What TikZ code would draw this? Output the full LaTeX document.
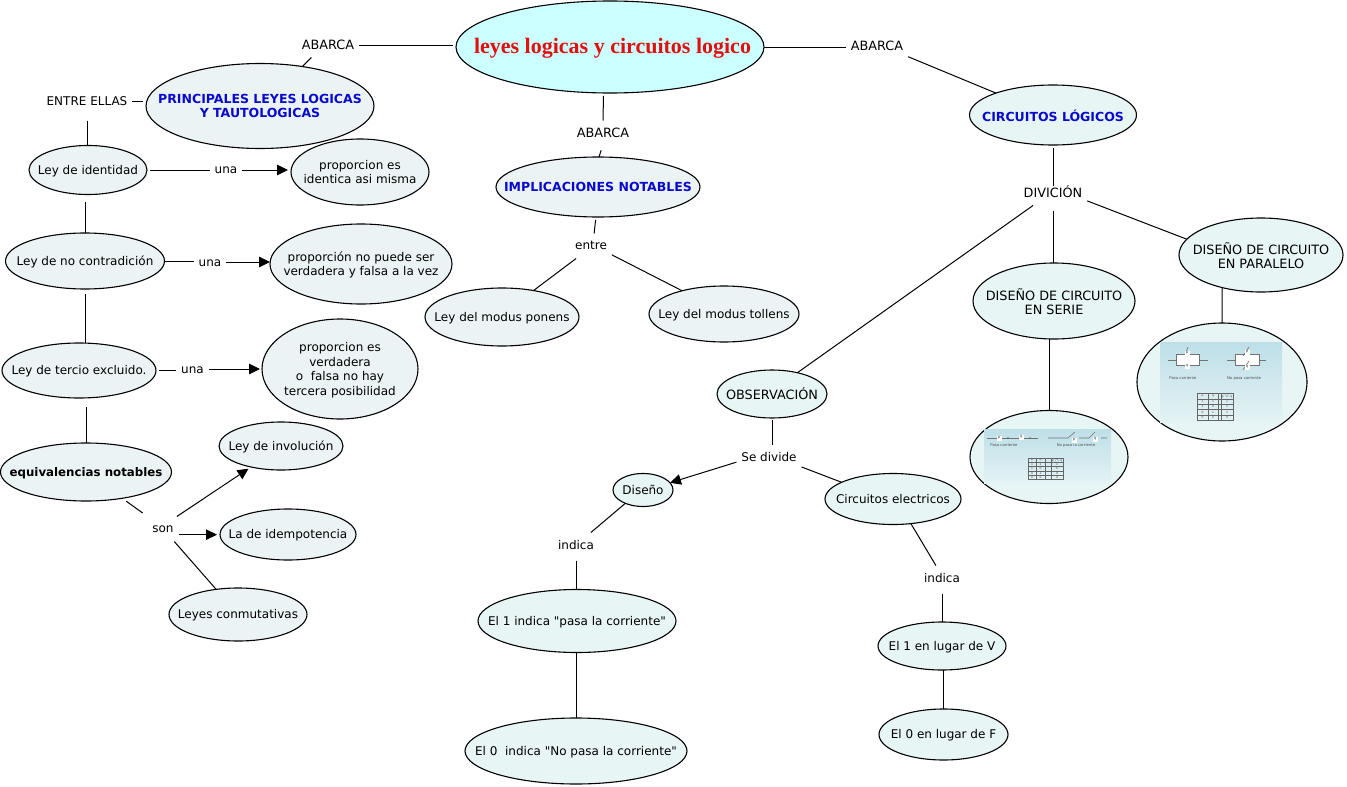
\documentclass[tikz,border=0pt]{standalone}
\usepackage{fontspec}
\setmainfont{DejaVu Sans}
\newfontfamily\titlefont{Liberation Serif}
\newfontfamily\quotefont{DejaVu Sans}
\usetikzlibrary{shapes.geometric,arrows.meta}
\definecolor{bubblefill}{RGB}{236,243,245}
\definecolor{tealfill}{RGB}{232,245,245}
\definecolor{titlefill}{RGB}{204,255,255}
\definecolor{headblue}{RGB}{10,10,205}
\definecolor{titlered}{RGB}{225,15,15}
\definecolor{picdark}{RGB}{190,223,232}
\definecolor{piclight}{RGB}{228,243,245}
\newcommand{\tl}[1]{\makebox[0pt]{\raisebox{-4.5pt}[0pt][0pt]{\begin{tabular}{@{}c@{}}#1\end{tabular}}}}
\newcommand{\tlc}[1]{\makebox[0pt]{\raisebox{-6pt}[0pt][0pt]{\begin{tabular}{@{}c@{}}#1\end{tabular}}}}
\newcommand{\qu}{{\quotefont"}}
\tikzset{
    bubble/.style={ellipse,draw=black,line width=1.1pt,fill=bubblefill,inner sep=0pt,outer sep=0pt},
    tealbubble/.style={bubble,fill=tealfill},
    head/.style={text=headblue,font=\fontsize{12.5}{14.5}\selectfont\bfseries},
    caps/.style={font=\fontsize{12.8}{14.5}\selectfont},
    link/.style={inner xsep=5pt,inner ysep=7pt,outer sep=0pt,text height=9pt,text depth=2pt},
    lowlink/.style={link,text height=10pt,text depth=1pt},
    line/.style={line width=1pt},
    arrow/.style={line width=1pt,-{Triangle[length=11pt,width=10.5pt]}},
    tiny/.style={font=\fontsize{3.8}{4}\selectfont,text=black!70,inner sep=0pt},
    tinybox/.style={tiny,fill=white,minimum width=5pt,minimum height=5pt},
    wire/.style={line width=.6pt,black!55},
    grid/.style={line width=.45pt,black!60},
}
\begin{document}
\begin{tikzpicture}[x=1pt,y=-1pt,font=\fontsize{12}{14.5}\selectfont]
        \useasboundingbox (0,0) rectangle (1347,787);

        % Top of the map.
        \node[bubble,fill=titlefill,minimum width=308,minimum height=92] (title) at (610,47)
            {\tl{\hspace{5pt}\titlefont\fontsize{22}{24}\selectfont\bfseries\textcolor{titlered}{leyes logicas y circuitos logico}}};
        \node[lowlink,caps] (abarcaL) at (328,45) {ABARCA};
        \node[lowlink,caps] (abarcaM) at (603,133) {ABARCA};
        \node[lowlink,caps] (abarcaR) at (877,46) {ABARCA};

        % Left column.
        \node[bubble,head,minimum width=228,minimum height=85] (leyes) at (260,106) {\tl{PRINCIPALES LEYES LOGICAS\\Y TAUTOLOGICAS}};
        \node[lowlink] (entre) at (87,101) {ENTRE ELLAS};
        \node[bubble,minimum width=118,minimum height=49] (identidad) at (88,170) {\tl{Ley de identidad}};
        \node[bubble,minimum width=138,minimum height=66] (propA) at (360,172) {\tl{proporcion es\\identica asi misma}};
        \node[link] (unaA) at (226,170) {una};
        \node[bubble,minimum width=159,minimum height=56] (contra) at (85,261) {\tl{Ley de no contradición}};
        \node[bubble,minimum width=182,minimum height=80] (propB) at (361,264) {\tl{proporción no puede ser\\verdadera y falsa a la vez}};
        \node[lowlink] (unaB) at (210,262) {una};
        \node[bubble,minimum width=154,minimum height=55] (tercio) at (79,370.5) {\tl{Ley de tercio excluido.}};
        \node[bubble,minimum width=156,minimum height=100] (propC) at (340,369) {\tl{proporcion es\\verdadera\\o\ \ falsa no hay\\tercera posibilidad}};
        \node[lowlink] (unaC) at (192.5,369) {una};
        \node[bubble,minimum width=171,minimum height=58,font=\fontsize{11.8}{15}\selectfont] (equiv) at (86,472) {\tl{\bfseries equivalencias notables}};
        \node[link] (son) at (163,529) {son};
        \node[bubble,minimum width=124,minimum height=48] (involucion) at (281,446) {\tl{Ley de involución}};
        \node[bubble,minimum width=136,minimum height=51] (idem) at (288,534.5) {\tl{La de idempotencia}};
        \node[bubble,minimum width=138,minimum height=53] (conmut) at (238,614.5) {\tl{Leyes conmutativas}};

        % Middle column.
        \node[bubble,head,minimum width=204,minimum height=60] (implic) at (598,187) {\tl{IMPLICACIONES NOTABLES}};
        \node[link] (entreM) at (591,246) {entre};
        \node[bubble,minimum width=154,minimum height=58] (ponens) at (502,317) {\tl{Ley del modus ponens}};
        \node[bubble,minimum width=150,minimum height=56] (tollens) at (724,314) {\tl{Ley del modus tollens}};

        % Right column.
        \node[tealbubble,head,minimum width=167,minimum height=60] (circuitos) at (1053,115) {\tlc{CIRCUITOS LÓGICOS}};
        \node[lowlink,caps] (divicion) at (1053,193) {DIVICIÓN};
        \node[tealbubble,caps,minimum width=162,minimum height=76] (serie) at (1054,301) {\tlc{DISEÑO DE CIRCUITO\\EN SERIE}};
        \node[tealbubble,caps,minimum width=164,minimum height=74] (paralelo) at (1261,255) {\tlc{DISEÑO DE CIRCUITO\\EN PARALELO}};
        \node[tealbubble,minimum width=158,minimum height=93] (picS) at (1049,457) {};
        \node[tealbubble,minimum width=170,minimum height=118] (picP) at (1222,382) {};
        \node[tealbubble,caps,minimum width=110,minimum height=48] (observ) at (772,394) {\tl{OBSERVACIÓN}};
        \node[lowlink] (sedivide) at (769,457) {Se divide};
        \node[tealbubble,minimum width=60,minimum height=33] (diseno) at (643,490) {\tl{Diseño}};
        \node[tealbubble,minimum width=136,minimum height=51] (electricos) at (893,499) {\tl{Circuitos electricos}};
        \node[lowlink] (indicaL) at (576,545) {indica};
        \node[lowlink] (indicaR) at (942,578) {indica};
        \node[tealbubble,minimum width=198,minimum height=63] (unoL) at (577,621) {\tl{El 1 indica \qu pasa la corriente\qu}};
        \node[tealbubble,minimum width=222,minimum height=66] (ceroL) at (576,751) {\tl{El 0\ \ indica \qu No pasa la corriente\qu}};
        \node[tealbubble,minimum width=128,minimum height=48] (unoR) at (942,646) {\tl{El 1 en lugar de V}};
        \node[tealbubble,minimum width=129,minimum height=51] (ceroR) at (943.5,734.5) {\tl{El 0 en lugar de F}};

        % Thumbnail: circuit in series.
        \shade[top color=picdark,bottom color=piclight] (984,429) rectangle (1111,483);
        \draw[wire] (987,438) -- (1038,438);
        \draw[wire] (1048,438) -- (1068,438) -- (1075,432) (1079,438) -- (1089,438) -- (1095,432) (1101,438) -- (1107,438);
        \fill[black!60] (1008,438) circle (.8) (1030,438) circle (.8);
        \node[tinybox] (sp) at (999,438) {p};
        \node[tinybox] (sq) at (1021,437) {q};
        \node[tinybox] (snp) at (1074,440) {p};
        \node[tinybox] (snq) at (1095,439) {q};
        \node[tiny] (spasa) at (1004,445.5) {Pasa corriente};
        \node[tiny] (snopasa) at (1076,445.5) {No pasa la corriente};
        \draw[grid] (1028,458) rectangle (1063,479);
        \foreach \y in {462,466,471,475} \draw[grid] (1028,\y) -- (1063,\y);
        \foreach \x in {1036,1045,1051} \draw[grid] (\x,458) -- (\x,479);
        \foreach \x/\y/\v [count=\i] in {1032/460/p,1040.5/460/q,1057/460/p $\wedge$ q,
            1032/464/1,1040.5/464/1,1057/464/1,1032/468.5/1,1040.5/468.5/0,1057/468.5/0,
            1032/473/0,1040.5/473/1,1057/473/0,1032/477/0,1040.5/477/0,1057/477/0}
            \node[tiny,font=\fontsize{3}{3}\selectfont] (sc\i) at (\x,\y) {\v};

        % Thumbnail: circuit in parallel.
        \shade[top color=picdark,bottom color=piclight] (1160,342) rectangle (1282,422);
        \draw[wire] (1168,360) -- (1176,360) (1199,360) -- (1208,360);
        \draw[wire,fill=white] (1176,354) rectangle (1199,365);
        \draw[wire] (1227,360) -- (1235,360) (1259,360) -- (1266,360);
        \draw[wire,fill=white] (1235,354) rectangle (1259,365);
        \draw[wire] (1185,355) -- (1188,347) (1243,356) -- (1249,347) (1243,370) -- (1249,361);
        \node[tinybox] (ppp) at (1187,353) {p};
        \node[tinybox] (ppq) at (1187,366) {q};
        \node[tinybox] (pnp) at (1247,352) {p};
        \node[tinybox] (pnq) at (1247,367) {q};
        \node[tiny] (ppasa) at (1183,378) {Pasa corriente};
        \node[tiny] (pnopasa) at (1244,378) {No pasa corriente};
        \draw[grid] (1197,393) rectangle (1233,420);
        \foreach \y in {399,404,409,415} \draw[grid] (1197,\y) -- (1233,\y);
        \foreach \x in {1208,1218,1221} \draw[grid] (\x,393) -- (\x,420);
        \foreach \x/\y/\v [count=\i] in {1202.5/396/p,1213/396/q,1227/396/p $\vee$ q,
            1202.5/401.5/1,1213/401.5/1,1227/401.5/1,1202.5/406.5/1,1213/406.5/0,1227/406.5/1,
            1202.5/412/0,1213/412/1,1227/412/1,1202.5/417.5/0,1213/417.5/0,1227/417.5/0}
            \node[tiny,font=\fontsize{3}{3}\selectfont] (pc\i) at (\x,\y) {\v};

        % Connectors.
        \draw[line,shorten >=3pt] (abarcaL.east) -- (abarcaL.east -| title.west);
        \draw[line] (leyes.43) -- (abarcaL.-143);
        \draw[line,shorten <=3pt] (title.-98) -- (abarcaM.north);
        \draw[line,shorten <=5pt] (abarcaM.-92) -- (implic.88);
        \draw[line] (title.east) -- (title.east -| abarcaR.west);
        \draw[line] (abarcaR.-19) -- (circuitos.159);
        \draw[line,shorten >=3pt] (entre.east) -- (entre.east -| leyes.west);
        \draw[line,shorten <=7pt] (entre.south) -- (entre.south |- identidad.north);
        \draw[line,shorten >=7pt] (contra.north) -- (contra.north |- identidad.south);
        \draw[line,shorten <=5pt] (contra.south) -- (contra.south |- tercio.north);
        \draw[line,shorten >=9pt] (equiv.north) -- (equiv.north |- tercio.south);
        \draw[line,shorten <=3pt] (identidad.east) -- (identidad.east -| unaA.west);
        \draw[arrow,shorten >=3pt] (unaA.east) -- (unaA.east -| propA.west);
        \draw[line] (contra.east) -- (contra.east -| unaB.west);
        \draw[arrow] (unaB.east) -- (unaB.east -| propB.west);
        \draw[line,shorten <=3pt] (tercio.east) -- (tercio.east -| unaC.west);
        \draw[arrow,shorten >=2pt] (unaC.east) -- (unaC.east -| propC.west);
        \draw[line,shorten <=5pt,shorten >=6pt] (equiv.-36) -- (son.141);
        \draw[arrow,shorten >=3pt] (son.42) -- (involucion.215);
        \draw[arrow,shorten >=3pt] (son.-20) -- (son.-20 -| idem.west);
        \draw[line] (son.-48) -- (conmut.131);
        \draw[line,shorten <=3pt] (implic.-94) -- (entreM.76);
        \draw[line] (entreM.220) -- (ponens.40);
        \draw[line] (entreM.-23) -- (tollens.151);
        \draw[line,shorten <=-5pt,shorten >=3pt] (divicion.north) -- (divicion.north |- circuitos.south);
        \draw[line,shorten <=5pt] (divicion.south) -- (divicion.south |- serie.north);
        \draw[line] (divicion.-13) -- (paralelo.168);
        \draw[line] (divicion.212) -- (observ.40);
        \draw[line] (picS.north) -- (picS.north |- serie.south);
        \draw[line] (paralelo.-140) -- (picP.north);
        \draw[line,shorten <=2pt] (observ.south) -- (observ.south |- sedivide.north);
        \draw[arrow] (sedivide.-171) -- (diseno.15);
        \draw[line] (sedivide.-17) -- (electricos.162);
        \draw[line] (diseno.217) -- (indicaL.40);
        \draw[line,shorten <=3pt] (indicaL.south) -- (indicaL.south |- unoL.north);
        \draw[line] (ceroL.north) -- (ceroL.north |- unoL.south);
        \draw[line] (electricos.-54) -- (indicaR.116);
        \draw[line,shorten <=3pt] (indicaR.south) -- (indicaR.south |- unoR.north);
        \draw[line] (ceroR.north) -- (ceroR.north |- unoR.south);
\end{tikzpicture}
\end{document}
